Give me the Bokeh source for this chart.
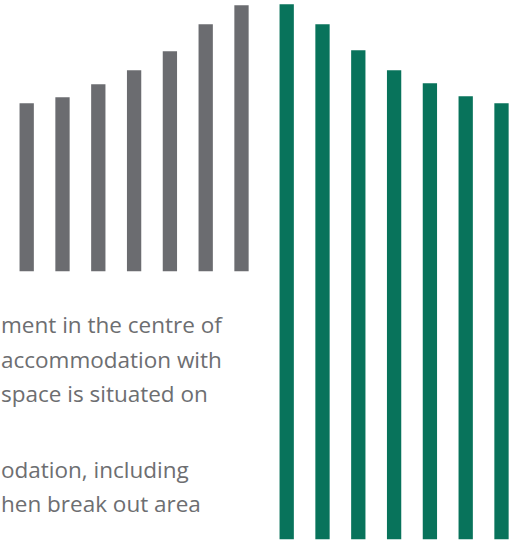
from bokeh.plotting import figure
from bokeh.models import Range1d, ColumnDataSource
from bokeh.core.properties import value
from bokeh.embed import file_html
from bokeh.resources import INLINE

# Data (bar heights, in pixels of the reference)
gray_heights = [168, 174, 187, 201, 220, 247, 266]
green_heights = [535, 515, 489, 469, 456, 443, 436]
text_lines = [
    "ment in the centre of",
    "accommodation with",
    "space is situated on",
    "odation, including",
    "hen break out area",
]
text_rows = [0, 1, 2, 4.2, 5.2]

W, H = 509, 542
GRAY_BASE = 270.7
GREEN_BASE = 538.7
STEP = 35.8
BAR_W = 14.3
GRAY_X0 = 26.2
GREEN_X0 = 286.2

p = figure(width=W, height=H, x_range=Range1d(0, W), y_range=Range1d(H, 0),
           output_backend="svg", toolbar_location=None, min_border=0)
p.axis.visible = False
p.grid.visible = False
p.outline_line_color = None
p.background_fill_color = "white"
p.border_fill_color = "white"

gray_src = ColumnDataSource(dict(
    x=[GRAY_X0 + i * STEP for i in range(len(gray_heights))],
    top=[GRAY_BASE - h for h in gray_heights],
    bottom=[GRAY_BASE] * len(gray_heights),
))
green_src = ColumnDataSource(dict(
    x=[GREEN_X0 + i * STEP for i in range(len(green_heights))],
    top=[GREEN_BASE - h for h in green_heights],
    bottom=[GREEN_BASE] * len(green_heights),
))
p.vbar(x="x", top="top", bottom="bottom", width=BAR_W, source=gray_src,
       fill_color="#6b6c70", line_color=None)
p.vbar(x="x", top="top", bottom="bottom", width=BAR_W, source=green_src,
       fill_color="#08735b", line_color=None)

LINE0 = 324
LEAD = 34.5
txt_src = ColumnDataSource(dict(
    x=[0.5] * len(text_lines),
    y=[LINE0 + r * LEAD for r in text_rows],
    t=text_lines,
))
p.text(x="x", y="y", text="t", source=txt_src, text_font=value("Open Sans"),
       text_font_size="22.5px", text_color="#6d6e71", text_align="left",
       text_baseline="alphabetic")

open("out.html", "w").write(file_html(p, INLINE))
